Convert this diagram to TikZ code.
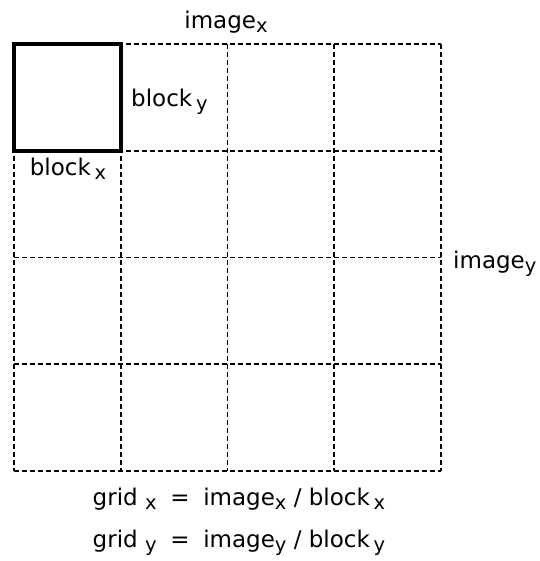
\documentclass[tikz,border=0pt]{standalone}
\usepackage{fontspec}
\setmainfont{DejaVu Sans}
\usepackage{tikz}
\usetikzlibrary{positioning, calc}
\newcommand{\sub}[1]{{\fontsize{19.5}{19.5}\selectfont\raisebox{-0.22em}{#1}}}

\begin{document}
\begin{tikzpicture}[
    x=1pt, y=-1pt,
    gridline/.style={dash pattern=on 5pt off 3pt, line width=1.6pt},
    blockbox/.style={draw, line width=3.8pt, minimum size=106.75pt, inner sep=0pt, outer sep=0pt},
    label/.style={font=\fontsize{23}{28}\selectfont, inner sep=1pt}
]
\useasboundingbox (0,0) rectangle (539,561);

% dashed image grid
\foreach \i in {0,...,4} {
    \draw[gridline] (14+106.75*\i,44) -- (14+106.75*\i,471);
    \draw[gridline] (14,44+106.75*\i) -- (441,44+106.75*\i);
}

% one block
\node[blockbox] (block) at (67.375,97.375) {};

\node[label] (imgx) at (226,22) {image\sub{x}};
\node[label, anchor=west] (blky) at (130,102) {block\,\sub{y}};
\node[label] (blkx) at (68,169) {block\,\sub{x}};
\node[label, anchor=west] (imgy) at (452,264) {image\sub{y}};

\node[label] (gridx) at (239,499) {grid \sub{x} \;=\; image\sub{x} / block\,\sub{x}};
\node[label] (gridy) at (239,543) {grid \sub{y} \;=\; image\sub{y} / block\,\sub{y}};
\end{tikzpicture}
\end{document}
